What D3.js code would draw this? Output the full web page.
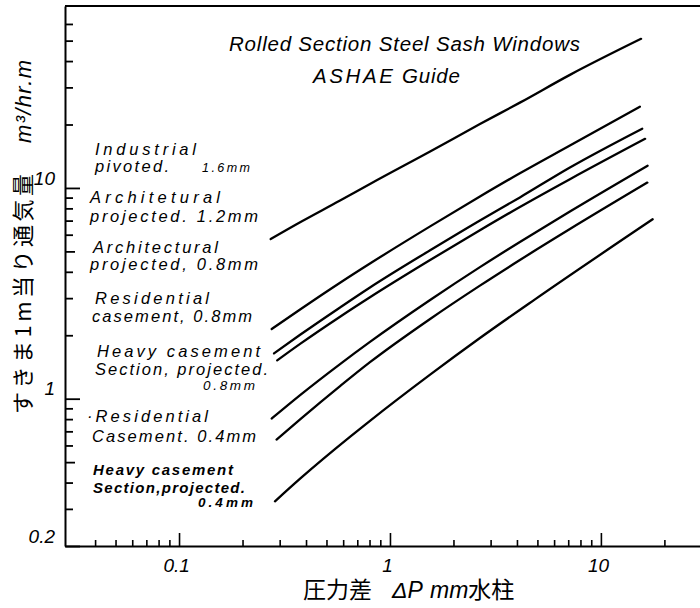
<!DOCTYPE html>
<html>
<head>
<meta charset="utf-8">
<script src="https://cdn.jsdelivr.net/npm/d3@7"></script>
<style>
  html, body { margin: 0; padding: 0; background: #fff; }
  svg { display: block; }
</style>
</head>
<body>
<svg id="chart" width="700" height="608"></svg>
<script>
// Air leakage per metre of crack vs. pressure difference (log–log), ASHAE Guide.
// Each series: [ΔP (mm water column), Q (m³/hr·m)]
const seriesNames = [
  "Industrial pivoted 1.6mm",
  "Architectural projected 1.2mm",
  "Architectural projected 0.8mm",
  "Residential casement 0.8mm",
  "Heavy casement section, projected 0.8mm",
  "Residential casement 0.4mm",
  "Heavy casement section, projected 0.4mm"
];
const industrialPivoted16 = [[0.272,5.72],[0.375,6.87],[0.58,8.71],[0.804,10.45],[1.55,14.9],[2.67,20.1],[4.13,25.4],[7.13,34.4],[15.5,51.0]];
const archProjected12     = [[0.275,2.14],[0.375,2.65],[0.58,3.55],[0.804,4.38],[1.55,6.57],[2.67,9.11],[4.13,11.74],[7.13,15.9],[15.3,24.3]];
const archProjected08     = [[0.282,1.64],[0.375,2.01],[0.58,2.71],[0.804,3.37],[1.55,5.06],[2.67,7.01],[4.13,9.02],[7.13,12.5],[15.7,19.1]];
const resCasement08       = [[0.292,1.52],[0.375,1.82],[0.58,2.45],[0.804,3.03],[1.55,4.55],[2.67,6.30],[4.13,8.12],[7.13,11.0],[16.2,17.1]];
const heavyProjected08    = [[0.275,0.805],[0.375,1.04],[0.58,1.46],[0.804,1.86],[1.55,2.94],[2.67,4.21],[4.13,5.54],[7.13,7.73],[16.65,12.75]];
const resCasement04       = [[0.29,0.64],[0.375,0.798],[0.58,1.147],[0.804,1.49],[1.55,2.39],[2.67,3.44],[4.13,4.55],[7.13,6.38],[16.6,10.6]];
const heavyProjected04    = [[0.285,0.326],[0.375,0.4175],[0.646,0.659],[0.804,0.785],[1.55,1.30],[2.67,1.94],[4.87,2.96],[17.6,7.1]];
const seriesValues = [industrialPivoted16, archProjected12, archProjected08, resCasement08,
                      heavyProjected08, resCasement04, heavyProjected04];

// Annotation text, one list of lines per series
const seriesLabelLines = [
  ["Industrial", "pivoted.", "1.6mm"],
  ["Architetural", "projected. 1.2mm"],
  ["Architectural", "projected, 0.8mm"],
  ["Residential", "casement, 0.8mm"],
  ["Heavy casement", "Section, projected.", "0.8mm"],
  ["\u00B7Residential", "Casement. 0.4mm"],
  ["Heavy casement", "Section,projected.", "0.4mm"]
];

// Axis ticks
const xMinorTicks = [0.04,0.05,0.06,0.07,0.08,0.09,0.2,0.3,0.4,0.5,0.6,0.7,0.8,0.9,2,3,4,5,6,7,8,9,20];
const xMajorTicks = [0.1, 1, 10];
const xTickLabels = ["0.1", "1", "10"];
const yMinorTicks = [0.3,0.4,0.5,0.6,0.7,0.8,0.9,2,3,4,5,6,7,8,9,20,30,40,50,60];
const yMajorTicks = [0.2, 1, 10];
const yTickLabels = ["0.2", "1", "10"];

const titleWords = ["Rolled Section Steel Sash Windows", "ASHAE", "Guide"];
const xTitle = ["圧力差", "ΔP", "mm", "水柱"];
const yTitle = ["すきま1m当り通気量", "m³/hr.m"];

// ---------- layout ----------
const svg = d3.select("#chart");
const plot = { left: 65, right: 700, top: 6, bottom: 546 };
const latin = "'Liberation Sans', 'DejaVu Sans', sans-serif";
const cjk = "'Noto Sans CJK JP', 'Noto Sans CJK SC', sans-serif";

const x = d3.scaleLog().domain([0.0288, 29.5]).range([plot.left, plot.right]);
const y = d3.scaleLog().domain([0.2, 73]).range([plot.bottom, plot.top]);

svg.append("rect").attr("width", 700).attr("height", 608).attr("fill", "#fff");

// top frame line
svg.append("line")
  .attr("x1", plot.left).attr("x2", plot.right)
  .attr("y1", plot.top).attr("y2", plot.top)
  .attr("stroke", "#000").attr("stroke-width", 2);

// y axis (ticks point into the plot, labels outside)
const yLabelOf = new Map(yMajorTicks.map((v, i) => [v, yTickLabels[i]]));
const yAxis = d3.axisLeft(y)
  .tickValues(yMajorTicks.concat(yMinorTicks))
  .tickSizeInner(-8).tickSizeOuter(0).tickPadding(10)
  .tickFormat(v => yLabelOf.get(v) || "");
const gy = svg.append("g").attr("transform", `translate(${plot.left},0)`).call(yAxis);
gy.select(".domain").attr("stroke-width", 2);
gy.selectAll(".tick line")
  .attr("stroke-width", 1.8)
  .attr("x2", d => yLabelOf.has(d) ? 15 : (d === 0.5 || d === 5 ? 10 : 8));
gy.selectAll(".tick text")
  .attr("font-family", latin).attr("font-style", "italic")
  .attr("font-size", 19).attr("fill", "#000")
  .attr("dy", "-0.2em");

// x axis (ticks point up into the plot)
const xLabelOf = new Map(xMajorTicks.map((v, i) => [v, xTickLabels[i]]));
const xAxis = d3.axisBottom(x)
  .tickValues(xMajorTicks.concat(xMinorTicks))
  .tickSizeInner(-6).tickSizeOuter(0).tickPadding(13)
  .tickFormat(v => xLabelOf.get(v) || "");
const gx = svg.append("g").attr("transform", `translate(0,${plot.bottom})`).call(xAxis);
gx.select(".domain").attr("stroke-width", 2);
gx.selectAll(".tick line")
  .attr("stroke-width", 1.6)
  .attr("y2", d => xLabelOf.has(d) ? -13 : -6);
gx.selectAll(".tick text")
  .attr("font-family", latin).attr("font-style", "italic")
  .attr("font-size", 19).attr("fill", "#000")
  .attr("dx", "-0.15em");

// curves
const line = d3.line()
  .x(d => x(d[0])).y(d => y(d[1]))
  .curve(d3.curveMonotoneX);
svg.append("g").selectAll("path")
  .data(seriesValues)
  .join("path")
  .attr("d", line)
  .attr("fill", "none")
  .attr("stroke", "#000")
  .attr("stroke-width", 2.3)
  .attr("stroke-linecap", "round");

// title
const titleLayout = [
  { x: 229, y: 51, w: 351 },
  { x: 313, y: 83, w: 80 },
  { x: 402, y: 83, w: 58 }
];
svg.append("g").selectAll("text")
  .data(titleWords)
  .join("text")
  .attr("x", (d, i) => titleLayout[i].x)
  .attr("y", (d, i) => titleLayout[i].y)
  .attr("textLength", (d, i) => titleLayout[i].w)
  .attr("lengthAdjust", "spacing")
  .attr("font-family", latin).attr("font-style", "italic")
  .attr("font-size", 20.5)
  .text(d => d);

// series annotations on the left
const labelLayout = [
  [{x:95,y:155,w:101,s:16.5},{x:95,y:172,w:74,s:16.5},{x:202,y:172,w:48,s:12.5}],
  [{x:90,y:203,w:130,s:16.5},{x:90,y:222,w:168,s:16.5}],
  [{x:93,y:253,w:125,s:16.5},{x:90,y:270,w:168,s:16.5}],
  [{x:95,y:304,w:114,s:16.5},{x:92,y:322,w:160,s:16.5}],
  [{x:97,y:357,w:163,s:16.5},{x:95,y:375,w:173,s:16.5},{x:203,y:390,w:52,s:13.5}],
  [{x:87,y:422,w:121,s:16.5},{x:92,y:442,w:164,s:16.5}],
  [{x:93,y:475,w:140,s:15},{x:93,y:493,w:152,s:15},{x:198,y:507,w:55,s:13.5}]
];
const labelRows = [];
seriesLabelLines.forEach((lines, si) =>
  lines.forEach((t, li) => labelRows.push({ t, ...labelLayout[si][li], heavy: si === 6 })));
svg.append("g").selectAll("text")
  .data(labelRows)
  .join("text")
  .attr("x", d => d.x).attr("y", d => d.y)
  .attr("textLength", d => d.w).attr("lengthAdjust", "spacing")
  .attr("font-family", latin).attr("font-style", "italic")
  .attr("font-weight", d => d.heavy ? "bold" : "normal")
  .attr("font-size", d => d.s)
  .text(d => d.t);

// x-axis title
const xt = svg.append("text").attr("y", 598).attr("font-size", 23).attr("fill", "#000");
xt.append("tspan").attr("x", 303).attr("font-family", cjk).text(xTitle[0]);
xt.append("tspan").attr("x", 392).attr("font-family", latin).attr("font-style", "italic").text(xTitle[1]);
xt.append("tspan").attr("x", 430).attr("font-family", latin).attr("font-style", "italic").text(xTitle[2]);
xt.append("tspan").attr("font-family", cjk).text(xTitle[3]);

// y-axis title (rotated)
const yt = svg.append("text")
  .attr("transform", "translate(31,414) rotate(-90)")
  .attr("font-size", 22).attr("fill", "#000");
yt.append("tspan").attr("x", 0).attr("font-family", cjk)
  .attr("textLength", 240).attr("lengthAdjust", "spacing").text(yTitle[0]);
yt.append("tspan").attr("x", 271).attr("font-family", latin).attr("font-style", "italic")
  .attr("font-size", 22).attr("textLength", 83).attr("lengthAdjust", "spacing").text(yTitle[1]);
</script>
</body>
</html>
